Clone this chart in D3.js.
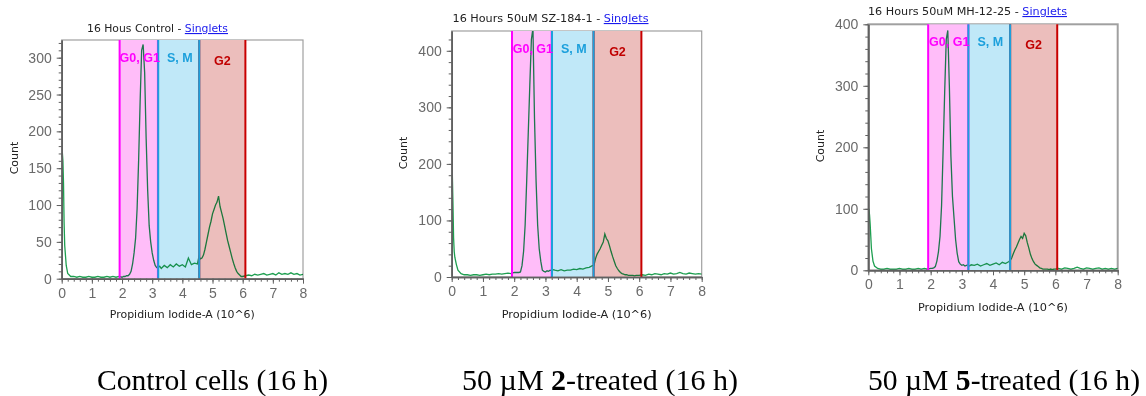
<!DOCTYPE html>
<html><head><meta charset="utf-8">
<script src="https://cdn.jsdelivr.net/npm/d3@7"></script>
<style>body{margin:0;background:#fff} svg{display:block}</style>
</head><body>
<svg id="c" width="1146" height="396"></svg>
<script>
// ---------- DATA ----------
const binX = [0,0.02,0.04,0.06,0.08,0.1,0.15,0.2,
 0.3,0.4,0.5,0.6,0.7,0.8,0.9,1.0,1.1,1.2,1.3,1.4,1.5,1.6,1.7,1.8,1.9,2.0,
 2.05,2.1,2.15,2.2,2.25,2.3,2.35,2.4,2.45,2.5,2.55,2.6,2.65,2.7,2.75,2.8,2.85,2.9,2.95,3.0,3.05,3.1,3.15,3.2,3.25,3.3,
 3.4,3.5,3.6,3.7,3.8,3.9,4.0,4.1,4.2,4.3,4.4,4.5,
 4.55,4.6,4.65,4.7,4.75,4.8,4.85,4.9,4.95,5.0,5.05,5.1,5.15,5.2,5.25,5.3,5.35,5.4,5.45,5.5,5.55,5.6,5.65,5.7,5.75,5.8,5.85,5.9,5.95,6.0,
 6.1,6.2,6.3,6.4,6.5,6.6,6.7,6.8,6.9,7.0,7.1,7.2,7.3,7.4,7.5,7.6,7.7,7.8,7.9,8.0];

const ctrlCounts = [165,172,160,130,75,45,18,7,
 3,3,2,3,2,2,3,2,2,3,2,2,3,2,3,2,3,2,
 3,3,4,4,6,10,20,35,55,95,160,240,310,318,280,190,120,72,50,35,25,18,15,15,17,14,
 18,15,19,16,20,17,19,16,28,19,21,20,
 30,27,28,32,40,50,60,70,78,88,94,100,104,112,98,90,82,72,62,52,44,36,28,21,15,10,7,5,3,3,
 4,5,4,6,5,6,7,5,6,7,5,8,6,7,6,8,6,7,5,6];

const szCounts = [150,182,130,70,45,35,22,12,
 6,4,4,3,4,4,3,4,5,4,5,5,6,5,6,7,6,8,
 8,8,8,9,20,45,92,170,255,340,420,440,280,170,92,50,28,12,10,9,11,10,12,11,13,12,
 11,13,11,12,12,14,13,15,14,16,17,20,
 20,32,40,45,50,56,62,76,68,64,55,45,36,28,20,15,11,8,6,5,4,4,3,3,3,3,2,3,3,3,
 4,3,5,4,6,5,4,6,5,7,5,6,8,6,5,7,6,5,6,5];

const mhCounts = [60,100,90,75,55,35,15,7,
 3,2,2,3,2,2,2,3,2,2,3,2,2,3,2,3,2,3,
 3,4,6,15,30,55,105,195,290,375,390,300,185,120,85,50,28,14,10,8,9,7,8,9,7,9,
 8,10,7,9,11,8,10,12,9,13,11,14,
 16,20,27,33,38,44,50,55,52,60,56,45,36,26,19,14,10,8,6,4,3,2,2,2,2,1,2,1,2,2,
 3,2,4,3,2,3,5,3,2,4,3,2,3,4,2,3,2,3,2,3];

const xTicks = [0,1,2,3,4,5,6,7,8];
const yTicksCtrl = [0,50,100,150,200,250,300];
const yTicks400 = [0,100,200,300,400];
const gateNames = ["G0, G1","S, M","G2"];
const gatesCtrl = [[1.92,3.19],[3.2,4.56],[4.56,6.09]];
const gatesSz = [[1.93,3.2],[3.21,4.54],[4.54,6.07]];
const gatesMh = [[1.92,3.21],[3.21,4.55],[4.55,6.06]];
const titleTexts = ["16 Hous Control - ","16 Hours 50uM SZ-184-1 - ","16 Hours 50uM MH-12-25 - "];
const titleLink = "Singlets";
const xLabel = "Propidium Iodide-A (10^6)";
const yLabel = "Count";
const capStart = ["Control cells (16 h)","50 \u00B5M ","50 \u00B5M "];
const capBold = ["","2","5"];
const capEnd = ["","-treated (16 h)","-treated (16 h)"];

// ---------- LAYOUT ----------
const panels = [
 {counts:ctrlCounts, gates:gatesCtrl, yTicks:yTicksCtrl, yMax:324, minorStep:10,
  l:61.7, r:303, t:40, b:278.7, titleX:87, titleY:32, titleW:141, yLabX:18, yLabY:158, xLabY:318, xLabW:145,
  capX:97, capW:231},
 {counts:szCounts, gates:gatesSz, yTicks:yTicks400, yMax:435, minorStep:20,
  l:451.7, r:701.7, t:31, b:277, titleX:452.5, titleY:22, titleW:196, yLabX:407, yLabY:153, xLabY:318, xLabW:150,
  capX:462, capW:276},
 {counts:mhCounts, gates:gatesMh, yTicks:yTicks400, yMax:400, minorStep:20,
  l:868.3, r:1117.7, t:24.3, b:270.3, titleX:868, titleY:15, titleW:199, yLabX:824, yLabY:146, xLabY:311, xLabW:150,
  capX:868, capW:272}
];
const gateFill = ["#ffbdf9","#c0e8f8","#ecbebc"];
const gateLine = ["#ff00ff","#1ca0dc","#c80000"];
const gateText = ["#ff00ff","#1ca0dc","#c00000"];
const sansUI = "'DejaVu Sans', sans-serif";
const sansTick = "'Liberation Sans', Arial, sans-serif";

const svg = d3.select("#c");

panels.forEach((p, i) => {
  const x = d3.scaleLinear().domain([0, 8]).range([p.l, p.r]);
  const y = d3.scaleLinear().domain([0, p.yMax]).range([p.b, p.t]);
  const g = svg.append("g");

  // frame
  g.append("rect").attr("x", p.l).attr("y", p.t).attr("width", p.r - p.l).attr("height", p.b - p.t)
    .attr("fill", "#fff").attr("stroke", "#a0a0a0").attr("stroke-width", i === 2 ? 2 : 1.2);

  // gate fills (G2 first, then S,M, then G0/G1)
  [2, 1, 0].forEach(k => {
    const [a, bb] = p.gates[k];
    g.append("rect").attr("x", x(a)).attr("y", p.t).attr("width", x(bb) - x(a)).attr("height", p.b - p.t)
      .attr("fill", gateFill[k]);
  });

  // histogram
  const clipId = "clip" + i;
  g.append("clipPath").attr("id", clipId).append("rect")
    .attr("x", p.l).attr("y", p.t).attr("width", p.r - p.l).attr("height", p.b - p.t);
  const line = d3.line().x((d, j) => x(binX[j])).y(d => y(d));
  g.append("path").datum(p.counts).attr("d", line)
    .attr("fill", "none").attr("stroke", "#1e9f50").attr("stroke-width", 1.3)
    .attr("clip-path", `url(#${clipId})`).style("mix-blend-mode", "multiply");

  // gate lines
  [2, 0, 1].forEach(k => {
    const [a, bb] = p.gates[k];
    [a, bb].forEach(v => {
      g.append("line").attr("x1", x(v)).attr("x2", x(v)).attr("y1", p.t).attr("y2", p.b)
        .attr("stroke", gateLine[k]).attr("stroke-width", 2);
    });
  });

  // gate labels
  p.gates.forEach((gt, k) => {
    g.append("text").attr("x", x((gt[0] + gt[1]) / 2) + (k === 0 ? 1 : (k === 1 ? 1 : 0)))
      .attr("y", p.t + (k === 2 ? 25 : 21.5))
      .attr("text-anchor", "middle").style("font-family", sansTick)
      .attr("font-weight", "bold").attr("font-size", 12.5).attr("fill", gateText[k])
      .text(gateNames[k]);
  });

  // axes
  const yAxis = d3.axisLeft(y).tickValues(p.yTicks).tickSize(5).tickPadding(5).tickSizeOuter(0);
  const yMinor = d3.axisLeft(y).tickValues(d3.range(0, p.yMax + 0.001, p.minorStep)).tickSize(3).tickFormat("").tickSizeOuter(0);
  const xAxis = d3.axisBottom(x).tickValues(xTicks).tickSize(5).tickPadding(4).tickSizeOuter(0);
  const xMinor = d3.axisBottom(x).tickValues(d3.range(0, 8.001, 0.2)).tickSize(3).tickFormat("").tickSizeOuter(0);

  [yMinor, yAxis].forEach(ax => {
    const a = g.append("g").attr("transform", `translate(${p.l},0)`).call(ax);
    a.selectAll("path,line").attr("stroke", "#606060");
    a.selectAll("text").style("font-family", sansTick).attr("font-size", 14).attr("fill", "#6a6a6a");
  });
  [xMinor, xAxis].forEach(ax => {
    const a = g.append("g").attr("transform", `translate(0,${p.b})`).call(ax);
    a.selectAll("path,line").attr("stroke", "#606060");
    a.selectAll("text").style("font-family", sansTick).attr("font-size", 14).attr("fill", "#6a6a6a");
  });
  g.selectAll(".domain").attr("stroke-width", 1.5);

  // title
  const tt = g.append("text").attr("x", p.titleX).attr("y", p.titleY)
    .style("font-family", sansUI).attr("font-size", 11).attr("fill", "#222")
    .attr("textLength", p.titleW).attr("lengthAdjust", "spacingAndGlyphs");
  tt.append("tspan").text(titleTexts[i]);
  tt.append("tspan").attr("fill", "#1a1aee").attr("text-decoration", "underline").text(titleLink);

  // axis labels
  g.append("text").attr("x", (p.l + p.r) / 2).attr("y", p.xLabY).attr("text-anchor", "middle")
    .style("font-family", sansUI).attr("font-size", 11).attr("fill", "#222")
    .attr("textLength", p.xLabW).attr("lengthAdjust", "spacingAndGlyphs").text(xLabel);
  g.append("text").attr("transform", `translate(${p.yLabX},${p.yLabY}) rotate(-90)`).attr("text-anchor", "middle")
    .style("font-family", sansUI).attr("font-size", 11).attr("fill", "#222").text(yLabel);

  // caption
  const cap = svg.append("text").attr("x", p.capX).attr("y", 390)
    .style("font-family", "'Liberation Serif', 'Times New Roman', serif").attr("font-size", 30).attr("fill", "#000")
    .attr("textLength", p.capW).attr("lengthAdjust", "spacingAndGlyphs");
  cap.append("tspan").text(capStart[i]);
  if (capBold[i]) cap.append("tspan").attr("font-weight", "bold").text(capBold[i]);
  if (capEnd[i]) cap.append("tspan").text(capEnd[i]);
});
</script>
</body></html>
